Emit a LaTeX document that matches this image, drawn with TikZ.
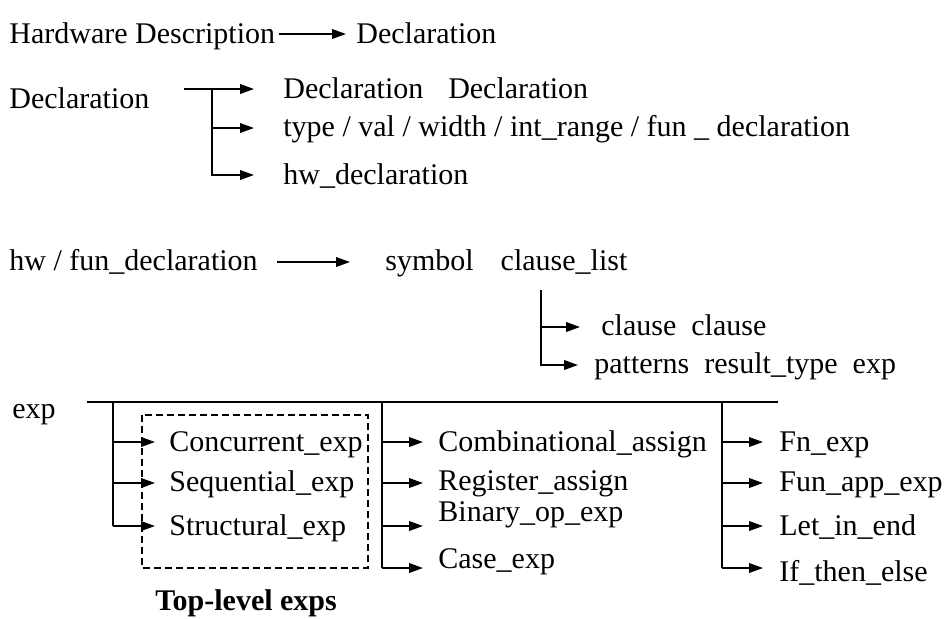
\documentclass[tikz,border=0pt]{standalone}
\usepackage{fontspec}
\setmainfont{Liberation Serif}
\usetikzlibrary{arrows.meta}
\tikzset{
  gtext/.style={anchor=base west, inner sep=0pt, font=\fontsize{15}{18}\selectfont},
  gline/.style={line width=0.9pt},
  garrow/.style={-{Triangle[length=7pt,width=4.8pt]}, line width=0.9pt},
  gbox/.style={line width=0.6pt, dash pattern=on 3.5pt off 2pt},
}
\begin{document}
\begin{tikzpicture}[x=0.5pt, y=-0.5pt]
    \useasboundingbox (0,0) rectangle (945,618);
    % descricao de hardware
    \node[gtext] (hwdesc) at (9,43) {Hardware Description};
    \node[gtext] (decl0) at (356,43) {Declaration};
    \coordinate (h0s) at (279,34);
    \coordinate (h0t) at (346,34);
    \draw[garrow] (h0s) -- (h0t);
    % declaracoes
    \node[gtext] (declL) at (9,108) {Declaration};
    \node[gtext] (declA) at (283,98) {Declaration\hspace{0.83em}Declaration};
    \node[gtext] (declB) at (283,136) {type / val / width / int\_range / fun \_ declaration};
    \node[gtext] (declC) at (283,184) {hw\_declaration};
    \coordinate (ds) at (184,89);
    \coordinate (dj) at (212,89);
    \coordinate (dm) at (212,128);
    \coordinate (dtA) at (254,89);
    \coordinate (dtB) at (254,128);
    \coordinate (dtC) at (254,175);
    \draw[garrow] (ds) -- (dtA);
    \draw[garrow] (dm) -- (dtB);
    \draw[garrow] (dj) |- (dtC);
    % hw / fun
    \node[gtext] (hwfun) at (9,270) {hw / fun\_declaration};
    \node[gtext] (symb) at (385,270) {symbol\hspace{0.9em}clause\_list};
    \node[gtext] (cls) at (601,335) {clause\hspace{0.5em}clause};
    \node[gtext] (pat) at (594,373) {patterns\hspace{0.5em}result\_type\hspace{0.5em}exp};
    \coordinate (fs) at (277,262);
    \coordinate (ft) at (350,262);
    \draw[garrow] (fs) -- (ft);
    \coordinate (cj) at (541,290);
    \coordinate (cm) at (541,327);
    \coordinate (ctA) at (580,327);
    \coordinate (ctB) at (578,365);
    \draw[garrow] (cm) -- (ctA);
    \draw[garrow] (cj) |- (ctB);
    % expressoes
    \node[gtext] (expL) at (12,418) {exp};
    \coordinate (es) at (87,402);
    \coordinate (ee) at (778,402);
    \draw[gline] (es) -- (ee);
    \draw[gbox] (142,415) rectangle (368,568);
    \node[gtext] (conc) at (169,451) {Concurrent\_exp};
    \node[gtext] (sequ) at (169,491) {Sequential\_exp};
    \node[gtext] (stru) at (169,535) {Structural\_exp};
    \node[gtext] (comb) at (438,451) {Combinational\_assign};
    \node[gtext] (regi) at (438,490) {Register\_assign};
    \node[gtext] (bina) at (438,521) {Binary\_op\_exp};
    \node[gtext] (case) at (438,568) {Case\_exp};
    \node[gtext] (fnex) at (779,451) {Fn\_exp};
    \node[gtext] (funa) at (779,491) {Fun\_app\_exp};
    \node[gtext] (leti) at (779,535) {Let\_in\_end};
    \node[gtext] (ifte) at (779,581) {If\_then\_else};
    \node[gtext, font=\fontsize{15}{18}\selectfont\bfseries] (toplbl) at (155,610) {Top-level exps};
    % ramos das colunas
    \foreach \xc/\xt/\nm/\ylist in {113/155/ca/{442,483,526}, 382/423/cb/{442,483,526,568}, 722/763/cc/{442,483,526,568}} {
        \coordinate (\nm top) at (\xc,402);
        \foreach \yb [count=\i] in \ylist {
            \coordinate (\nm\i) at (\xc,\yb);
            \coordinate (\nm t\i) at (\xt,\yb);
            \draw[gline] (\nm top) -- (\nm\i);
            \draw[garrow] (\nm\i) -- (\nm t\i);
        }
    }
\end{tikzpicture}
\end{document}
